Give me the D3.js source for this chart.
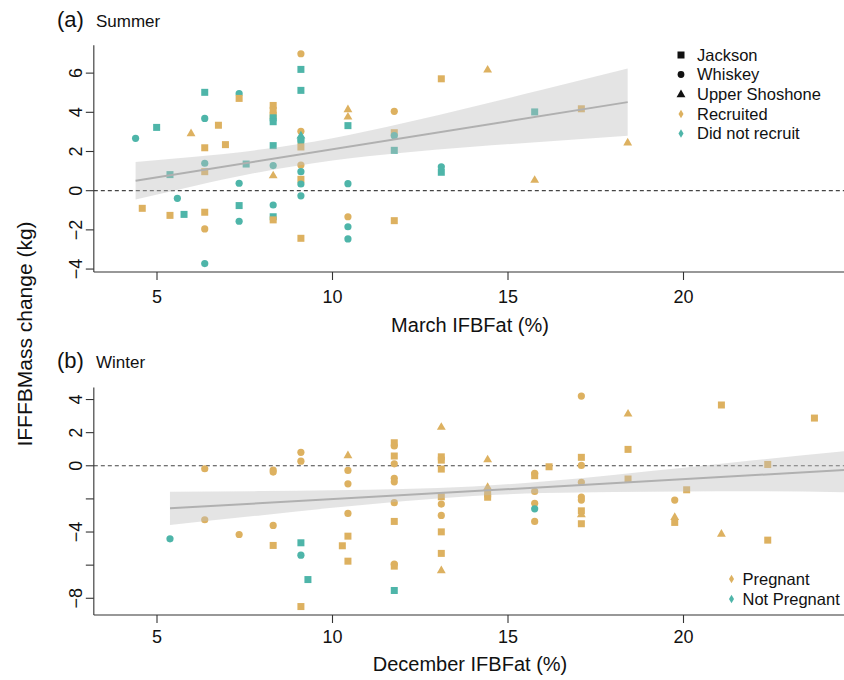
<!DOCTYPE html>
<html><head><meta charset="utf-8">
<script src="https://cdn.jsdelivr.net/npm/d3@7"></script>
<style>body{margin:0;background:#fff}svg{display:block}text{font-family:"Liberation Sans",Arial,Helvetica,sans-serif;fill:#111}</style>
</head><body><svg id="c" width="844" height="680"></svg>
<script>
// ---- Summer (panel a): March IFBFat (%), mass change (kg), site, recruitment status ----
const sX = [4.39,4.99,5.97,6.75,6.95,6.36,6.36,6.36,6.36,6.36,6.36,6.36,6.36,5.37,5.58,4.58,5.37,5.77,7.34,7.34,7.54,7.34,7.34,7.34,8.31,8.31,8.31,8.31,8.31,8.31,8.31,8.31,8.31,8.31,8.31,9.10,9.10,9.10,9.10,9.10,9.10,9.10,9.10,9.10,9.10,9.10,9.10,9.10,9.10,10.44,10.44,10.44,10.44,10.44,10.44,10.44,11.76,11.76,11.76,11.76,11.76,13.10,13.10,13.10,14.42,15.76,15.76,17.09,18.41];
const sY = [2.67,3.23,2.94,3.34,2.35,5.02,3.69,2.19,1.40,0.97,-1.10,-1.95,-3.72,0.82,-0.39,-0.90,-1.26,-1.21,4.95,4.71,1.36,0.38,-0.76,-1.56,4.35,4.10,3.85,3.72,3.52,2.30,1.28,0.79,-0.73,-1.33,-1.49,6.99,6.19,5.12,3.03,2.83,2.63,2.50,2.23,1.31,0.97,0.58,0.34,-0.26,-2.43,4.17,3.79,3.32,0.36,-1.33,-1.84,-2.46,4.05,2.96,2.81,2.06,-1.53,5.71,1.22,0.94,6.19,4.02,0.56,4.18,2.47];
const sSite = ["W","J","U","J","J","J","W","J","W","J","J","W","W","J","W","J","J","J","W","J","J","W","J","W","J","J","J","J","J","J","W","U","W","J","J","W","J","J","W","U","W","W","J","W","W","J","W","W","J","U","U","J","W","W","W","W","W","J","W","J","J","J","W","J","U","J","U","J","U"];
const sStat = ["N","N","R","R","R","N","N","R","N","R","R","R","N","N","N","R","R","N","N","R","N","N","N","N","R","R","R","N","N","N","N","R","N","N","R","R","N","N","R","N","N","N","R","R","N","R","N","N","R","R","R","N","N","R","N","N","R","R","N","N","R","R","N","N","R","N","R","R","R"];

// ---- Winter (panel b): December IFBFat (%), mass change (kg), site, pregnancy status ----
const wX = [5.37,6.36,6.36,7.34,8.31,8.31,8.31,8.31,9.10,9.10,9.10,9.10,9.30,9.10,10.28,10.44,10.44,10.44,10.44,10.44,10.44,11.76,11.76,11.76,11.76,11.76,11.76,11.76,11.76,11.76,11.76,11.76,13.10,13.10,13.10,13.10,13.10,13.10,13.10,13.10,13.10,13.10,14.42,14.42,14.42,14.42,15.76,15.76,15.76,15.76,15.76,15.76,16.17,17.09,17.09,17.09,17.09,17.09,17.09,17.09,17.09,17.09,18.42,18.42,18.42,19.75,19.75,19.75,20.09,21.08,21.08,22.40,22.40,23.73];
const wY = [-4.41,-0.18,-3.26,-4.15,-0.26,-0.38,-3.60,-4.81,0.81,0.28,-4.65,-5.40,-6.87,-8.50,-4.83,0.65,-0.28,-1.09,-2.88,-4.25,-5.76,1.39,1.20,0.59,0.12,-0.76,-0.97,-2.23,-3.36,-5.94,-6.06,-7.53,2.36,0.54,0.34,-0.20,-1.87,-2.31,-3.00,-3.99,-5.29,-6.30,0.40,-1.27,-1.70,-1.90,-0.45,-0.60,-1.55,-2.27,-2.60,-3.36,-0.06,4.21,0.51,0.02,-1.00,-1.89,-2.07,-2.72,-2.92,-3.50,3.16,0.99,-0.80,-2.07,-3.08,-3.42,-1.45,3.67,-4.09,0.08,-4.49,2.88];
const wSite = ["W","W","W","W","W","W","W","J","W","W","J","W","J","J","J","U","W","W","W","J","J","J","W","J","W","W","W","W","J","W","J","J","U","J","J","J","J","W","W","J","J","U","U","U","J","J","W","J","W","W","W","W","J","W","J","W","W","W","W","J","U","J","U","J","J","W","U","J","J","J","U","J","J","J"];
const wStat = ["N","P","P","P","P","P","P","P","P","P","N","N","N","P","P","P","P","P","P","P","P","P","P","P","P","P","P","P","P","P","P","N","P","P","P","P","P","P","P","P","P","P","P","P","P","P","P","P","P","P","N","P","P","P","P","P","P","P","P","P","P","P","P","P","P","P","P","P","P","P","P","P","P","P"];

// regression fits and confidence bands
const sFitX = [4.39, 18.41], sFitY = [0.51, 4.52];
const sBandX = [4.39, 6, 8, 10, 12, 14, 16, 18.41];
const sBandHi = [1.47, 1.72, 2.11, 2.68, 3.44, 4.28, 5.16, 6.24];
const sBandLo = [-0.45, 0.22, 0.97, 1.54, 1.94, 2.24, 2.50, 2.80];
const wFitX = [5.37, 24.8], wFitY = [-2.57, -0.23];
const wBandX = [5.37, 8, 10, 12, 14, 16, 18, 20, 22, 24.8];
const wBandHi = [-1.57, -1.53, -1.48, -1.40, -1.25, -0.95, -0.55, -0.12, 0.33, 0.92];
const wBandLo = [-3.58, -2.98, -2.54, -2.14, -1.82, -1.65, -1.58, -1.55, -1.54, -1.60];

const xTicks = [5, 10, 15, 20];
const sYTicks = [6, 4, 2, 0, -2, -4];
const sYLabels = ["6","4","2","0","\u22122","\u22124"];
const wYTicks = [4, 2, 0, -2, -4, -6, -8];
const wYLabels = ["4","2","0","","\u22124","","\u22128"];
const siteNames = ["Jackson","Whiskey","Upper Shoshone"];
const sLegend = ["Recruited","Did not recruit"];
const wLegend = ["Pregnant","Not Pregnant"];

const GOLD = "#DDB160", TEAL = "#4EB5A9";
const svg = d3.select("#c");
const x = d3.scaleLinear().domain([5, 20]).range([157, 683.5]);
const xMin = 3.2, xMax = 24.8;

function panel(cfg) {
  const y = d3.scaleLinear().domain(cfg.yDom).range(cfg.yRange);
  const g = svg.append("g");
  const top = cfg.yRange[1], bot = cfg.yRange[0];
  g.append("line").attr("x1", x(xMin)).attr("x2", x(xMax)).attr("y1", y(0)).attr("y2", y(0))
    .attr("stroke", "#444").attr("stroke-width", 1.2).attr("stroke-dasharray", "4,3");
  const pts = cfg.X.map((v, i) => ({x: v, y: cfg.Y[i], s: cfg.site[i], c: cfg.stat[i]}));
  pts.forEach(p => {
    const cx = x(p.x), cy = y(p.y), col = (p.c === "N") ? TEAL : GOLD;
    if (p.s === "J") g.append("rect").attr("x", cx-3.5).attr("y", cy-3.5).attr("width", 7).attr("height", 7).attr("fill", col);
    else if (p.s === "W") g.append("circle").attr("cx", cx).attr("cy", cy).attr("r", 3.6).attr("fill", col);
    else g.append("path").attr("d", d3.symbol(d3.symbolTriangle, 34)()).attr("transform", `translate(${cx},${cy+0.6})`).attr("fill", col);
  });
  const band = cfg.bandX.map((v, i) => ({x: v, hi: cfg.bandHi[i], lo: cfg.bandLo[i]}));
  g.append("path").datum(band)
    .attr("d", d3.area().x(d => x(d.x)).y0(d => y(d.lo)).y1(d => y(d.hi)).curve(d3.curveMonotoneX))
    .attr("fill", "rgba(190,190,190,0.42)");
  g.append("line").attr("x1", x(cfg.fitX[0])).attr("x2", x(cfg.fitX[1]))
    .attr("y1", y(cfg.fitY[0])).attr("y2", y(cfg.fitY[1]))
    .attr("stroke", "#b0b0b0").attr("stroke-width", 2);
  const ax = svg.append("g").attr("stroke", "#333").attr("stroke-width", 1.1);
  ax.append("line").attr("x1", x(xMin)).attr("x2", x(xMin)).attr("y1", top).attr("y2", bot);
  ax.append("line").attr("x1", x(xMin)).attr("x2", x(xMax)).attr("y1", bot).attr("y2", bot);
  xTicks.forEach(t => {
    ax.append("line").attr("x1", x(t)).attr("x2", x(t)).attr("y1", bot).attr("y2", bot+8);
    svg.append("text").attr("x", x(t)).attr("y", bot+cfg.tickOff).attr("dy", "0.36em").attr("text-anchor", "middle")
      .attr("font-size", 18).text(t);
  });
  cfg.yTicks.forEach((t, i) => {
    ax.append("line").attr("x1", x(xMin)-8).attr("x2", x(xMin)).attr("y1", y(t)).attr("y2", y(t));
    if (cfg.yLabels[i]) svg.append("text").attr("transform", `translate(82,${y(t)}) rotate(-90)`)
      .attr("text-anchor", "middle").attr("font-size", 18).text(cfg.yLabels[i]);
  });
  svg.append("text").attr("x", 470).attr("y", bot+cfg.titleOff).attr("dy", "0.36em").attr("text-anchor", "middle")
    .attr("font-size", 20).text(cfg.xTitle);
  svg.append("text").attr("x", 57).attr("y", cfg.labY).attr("font-size", 22).text(cfg.tag);
  svg.append("text").attr("x", 96).attr("y", cfg.labY).attr("font-size", 17).text(cfg.season);
  return y;
}

panel({X: sX, Y: sY, site: sSite, stat: sStat, yDom: [-4.15, 7.42], yRange: [272, 45.3],
  bandX: sBandX, bandHi: sBandHi, bandLo: sBandLo, fitX: sFitX, fitY: sFitY,
  yTicks: sYTicks, yLabels: sYLabels, xTitle: "March IFBFat (%)", tag: "(a)", season: "Summer", labY: 27,
  tickOff: 25, titleOff: 53});
panel({X: wX, Y: wY, site: wSite, stat: wStat, yDom: [-9.01, 4.72], yRange: [615, 387.6],
  bandX: wBandX, bandHi: wBandHi, bandLo: wBandLo, fitX: wFitX, fitY: wFitY,
  yTicks: wYTicks, yLabels: wYLabels, xTitle: "December IFBFat (%)", tag: "(b)", season: "Winter", labY: 368,
  tickOff: 22, titleOff: 49});

svg.append("text").attr("transform", "translate(32,334) rotate(-90)").attr("text-anchor", "middle")
  .attr("font-size", 21).text("IFFFBMass change (kg)");

const lg = svg.append("g");
const rowsA = [55, 74.5, 94, 114, 133.5];
siteNames.forEach((n, i) => {
  const cy = rowsA[i], cx = 681;
  if (i === 0) lg.append("rect").attr("x", cx-3.5).attr("y", cy-3.5).attr("width", 7).attr("height", 7).attr("fill", "#111");
  else if (i === 1) lg.append("circle").attr("cx", cx).attr("cy", cy).attr("r", 3.4).attr("fill", "#111");
  else lg.append("path").attr("d", d3.symbol(d3.symbolTriangle, 34)()).attr("transform", `translate(${cx},${cy+0.6})`).attr("fill", "#111");
  lg.append("text").attr("x", 697).attr("y", cy).attr("dy", "0.36em").attr("font-size", 16.5).text(n);
});
sLegend.forEach((n, i) => {
  const cy = rowsA[3+i];
  lg.append("path").attr("d", d3.symbol(d3.symbolDiamond, 22)()).attr("transform", `translate(681,${cy})`).attr("fill", i ? TEAL : GOLD);
  lg.append("text").attr("x", 697).attr("y", cy).attr("dy", "0.36em").attr("font-size", 16.5).text(n);
});
const rowsB = [579, 599];
wLegend.forEach((n, i) => {
  lg.append("path").attr("d", d3.symbol(d3.symbolDiamond, 22)()).attr("transform", `translate(731.5,${rowsB[i]})`).attr("fill", i ? TEAL : GOLD);
  lg.append("text").attr("x", 742.5).attr("y", rowsB[i]).attr("dy", "0.36em").attr("font-size", 16.5).text(n);
});
</script>
</body></html>
